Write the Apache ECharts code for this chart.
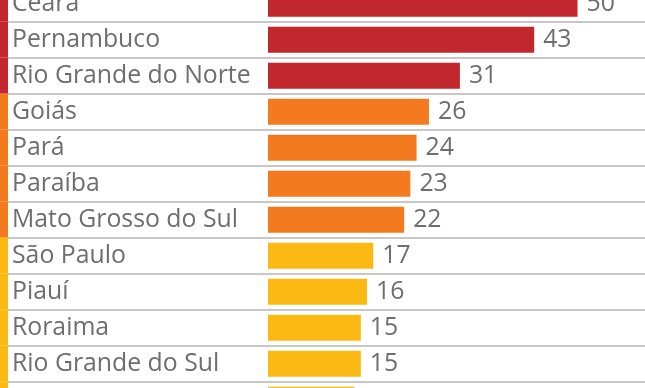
<!DOCTYPE html>
<html>
<head>
<meta charset="utf-8">
<script src="https://cdn.jsdelivr.net/npm/echarts@6/dist/echarts.min.js"></script>
<style>html,body{margin:0;padding:0;background:#fff}#c{width:645px;height:388px}</style>
</head>
<body>
<div id="c"></div>
<script>
var states = ['Ceará','Pernambuco','Rio Grande do Norte','Goiás','Pará','Paraíba','Mato Grosso do Sul','São Paulo','Piauí','Roraima','Rio Grande do Sul',''];
var values = [50,43,31,26,24,23,22,17,16,15,15,14];
var groups = ['red','red','red','orange','orange','orange','orange','yellow','yellow','yellow','yellow','yellow'];
var groupColors = {red:'#c1272d', orange:'#f47a20', yellow:'#fdb913'};

var chart = echarts.init(document.getElementById('c'));
var rowH = 36;
var top0 = 21.7 - rowH;
var gridH = rowH * states.length;
var font = '"Open Sans", sans-serif';

chart.setOption({
  animation: false,
  grid: [
    {left: 8, right: 0, top: top0, height: gridH, outerBoundsMode: 'none', containLabel: false},
    {left: 0, width: 8, top: top0, height: gridH, outerBoundsMode: 'none', containLabel: false}
  ],
  xAxis: [
    {gridIndex: 0, type: 'value', min: -42, max: 60.9, show: false},
    {gridIndex: 1, type: 'value', min: 0, max: 1, show: false}
  ],
  yAxis: [
    {gridIndex: 0, type: 'category', data: states, inverse: true,
     axisLine: {show: false, onZero: false}, axisTick: {show: false},
     splitLine: {show: true, lineStyle: {color: '#b4b4b4', width: 1.5}},
     axisLabel: {inside: true, margin: 4, color: '#6e6e6e', fontSize: 24.8, fontFamily: font, align: 'left'}},
    {gridIndex: 1, type: 'category', data: states, inverse: true, show: false}
  ],
  series: [
    {type: 'bar', xAxisIndex: 0, yAxisIndex: 0, barWidth: 26,
     data: values.map(function(v, i){ return {value: v, itemStyle: {color: groupColors[groups[i]]}}; }),
     label: {show: true, position: 'right', distance: 9, color: '#6e6e6e', fontSize: 24.8, fontFamily: font}},
    {type: 'bar', xAxisIndex: 1, yAxisIndex: 1, barWidth: '100%', silent: true,
     data: groups.map(function(g){ return {value: 1, itemStyle: {color: groupColors[g]}}; })}
  ]
});
</script>
</body>
</html>
